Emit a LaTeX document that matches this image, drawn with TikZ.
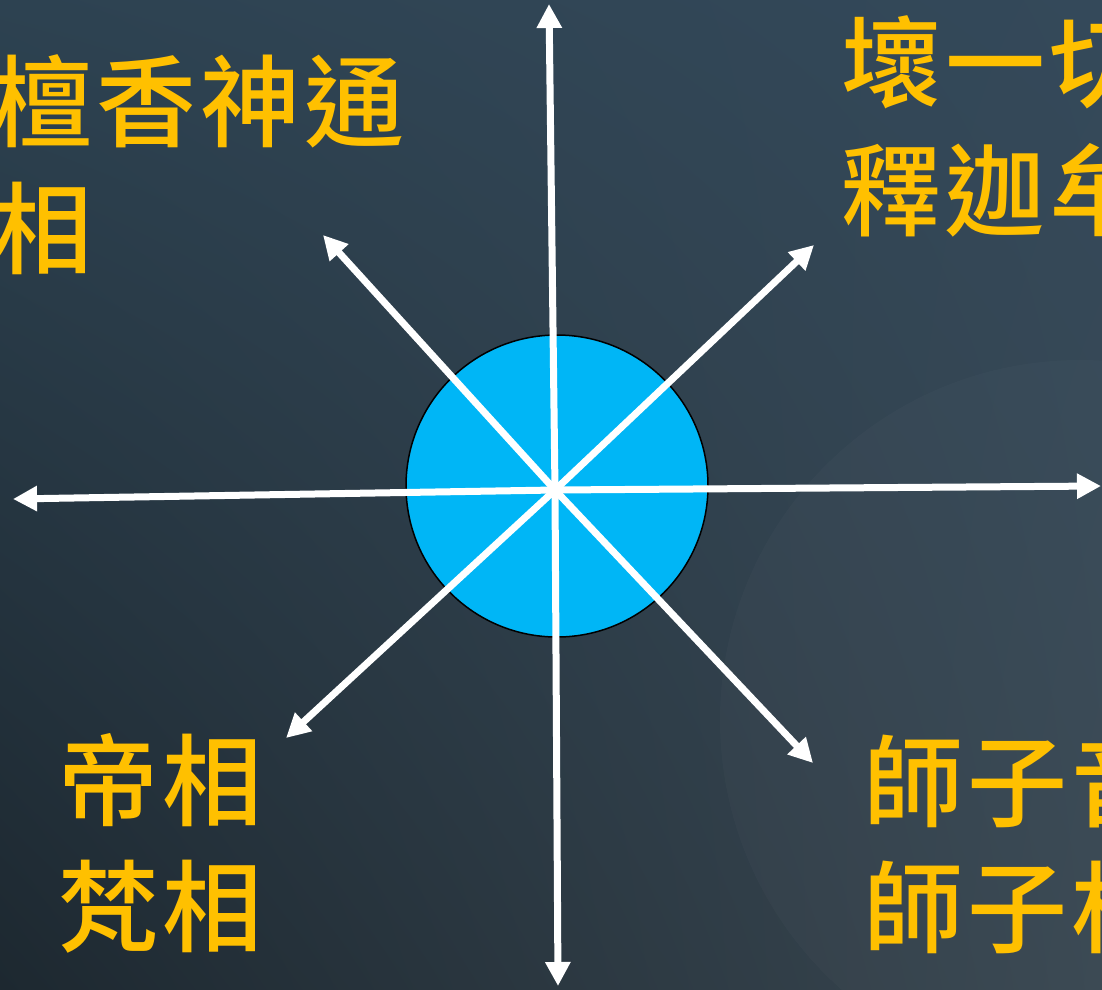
\documentclass[tikz,border=0pt]{standalone}
\usepackage{fontspec}
\newfontfamily\cjk{Noto Sans CJK TC}[UprightFont={* Medium}, LetterSpace=4]
\usetikzlibrary{arrows.meta,shadings}
\definecolor{txtyellow}{HTML}{FFC000}
\definecolor{discblue}{HTML}{00B6F6}
\definecolor{bgUL}{HTML}{2D4251}
\definecolor{bgUR}{HTML}{34495A}
\definecolor{bgLL}{HTML}{1D2830}
\definecolor{bgLR}{HTML}{394751}
\tikzset{
  arr/.style={draw=white, line width=7pt, -{Triangle[length=24pt,width=24pt]}},
  lbl/.style={anchor=base west, inner sep=0pt, text=txtyellow, font=\cjk\fontsize{100pt}{100pt}\selectfont},
}
\begin{document}
\begin{tikzpicture}[x=1pt,y=-1pt]
\useasboundingbox (0,0) rectangle (1102,989);
\clip (0,0) rectangle (1102,989);
% background
\shade[upper left=bgUL, upper right=bgUR, lower left=bgLL, lower right=bgLR] (0,0) rectangle (1102,989);
\fill[white, opacity=0.02] (1080,720) circle (360);
% disc
\node (disc) [circle, draw=black, line width=1.5pt, fill=discblue, minimum size=302pt, inner sep=0pt] at (557,486) {};
% arrow coordinates
\coordinate (c) at (555,490);
\coordinate (tN) at (549,4);
\coordinate (tS) at (558,986);
\coordinate (tW) at (13,499);
\coordinate (tE) at (1101,486);
\coordinate (tNW) at (323,235);
\coordinate (tNE) at (814,245);
\coordinate (tSW) at (286,738);
\coordinate (tSE) at (813,763);
\foreach \t in {tN,tS,tW,tE,tNW,tNE,tSW,tSE} \draw[arr] (c) -- (\t);
% labels
\node (nw1) [lbl] at (-8,139) {檀香神通};
\node (nw2) [lbl] at (-8,266) {相};
\node (ne1) [lbl] at (841,100) {壞一切世間怖畏};
\node (ne2) [lbl] at (841,228) {釋迦牟尼佛};
\node (sw1) [lbl] at (58,818) {帝相};
\node (sw2) [lbl] at (58,944) {梵相};
\node (se1) [lbl] at (863,819) {師子音};
\node (se2) [lbl] at (863,945) {師子相};
\end{tikzpicture}
\end{document}
